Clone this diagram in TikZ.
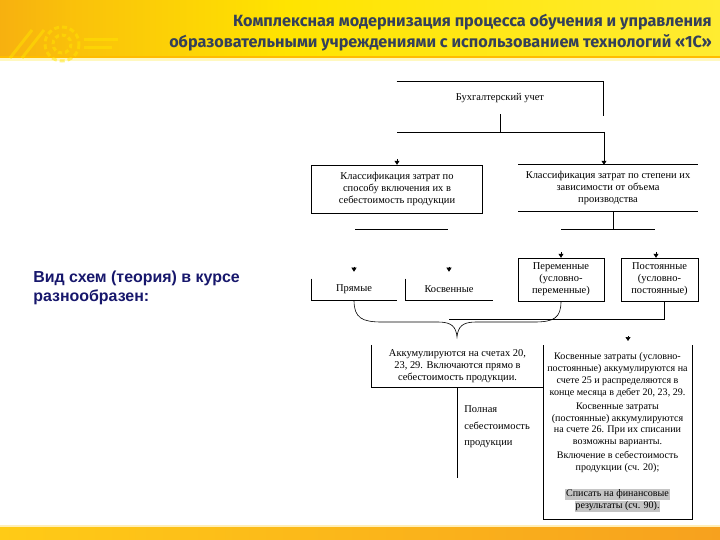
\documentclass[tikz,border=0pt]{standalone}
\usepackage{fontspec}
\setmainfont{Liberation Serif}
\newfontfamily\headfont{Fira Sans}
\newfontfamily\leadfont{Liberation Sans}
\usetikzlibrary{arrows.meta,positioning,calc}

\definecolor{headtext}{HTML}{34405A}
\definecolor{leadnavy}{HTML}{17176C}
\definecolor{hdorange}{HTML}{F0801E}
\definecolor{hdyellow}{HTML}{FFE400}
\definecolor{hdpale}{HTML}{FFF25A}
\definecolor{ftyellow}{HTML}{FFCB16}
\definecolor{ftorange}{HTML}{F7A11E}
\definecolor{hlgray}{HTML}{C4C4C4}

\pgfdeclarehorizontalshading{headband}{100bp}{color(0bp)=(hdorange); color(15bp)=(hdorange!85!hdyellow); color(30bp)=(hdorange!35!hdyellow); color(45bp)=(hdyellow); color(100bp)=(hdpale)}

\tikzset{
  schemebox/.style={inner sep=1bp, align=center, font=\fontsize{10.5}{12}\selectfont},
  tip/.style={-{Triangle[width=5bp,length=4bp]}, line width=0.5bp},
  frame/.style={line width=0.6bp}
}

\begin{document}
\begin{tikzpicture}[x=1bp, y=-1bp, line width=0.6bp]
  \useasboundingbox (0,0) rectangle (720,540);
  \fill[white] (0,0) rectangle (720,540);
  % шапка
  \shade[shading=headband] (0,0) rectangle (720,57);
  \fill[hdyellow!60!orange] (0,56) rectangle (720,58);
  \fill[hdyellow!25] (0,58) rectangle (720,61);
  \begin{scope}[hdyellow, opacity=0.5, line width=3bp]
    \draw[dash pattern=on 5bp off 3bp] (62,44) circle[radius=17];
    \draw[dash pattern=on 4bp off 3bp] (62,44) circle[radius=9];
    \draw (10,58) -- (32,30) (22,58) -- (44,30);
    \draw (84,40) -- (118,40) (84,48) -- (112,48);
  \end{scope}
  \node[anchor=north east, align=right, text=headtext, inner sep=0pt,
        font=\headfont\bfseries\fontsize{16.3}{21}\selectfont] (title) at (712,14)
    {Комплексная модернизация процесса обучения и управления\\
     образовательными учреждениями с использованием технологий «1С»};
  % подвал
  \shade[left color=ftyellow, right color=ftorange] (0,527) rectangle (720,540);
  \fill[ftyellow!30] (0,525) rectangle (720,527);

  \node[anchor=north west, align=left, text=leadnavy, inner sep=0pt,
        font=\leadfont\bfseries\fontsize{16}{19}\selectfont] (lead) at (33,271)
    {Вид схем (теория) в курсе\\разнообразен:};

  % схема
  \node[schemebox, minimum width=207, minimum height=32] (acct) at (500,98) {Бухгалтерский учет};
  \draw[frame] (acct.north west) -- (acct.north east) -- ([yshift=-2bp]acct.south east);
  \coordinate (split) at (500,132);
  \coordinate (splitL) at (397,132);
  \coordinate (splitR) at (604,132);
  \draw (acct.south) -- (split);
  \draw (splitL) -- (splitR);

  \node[schemebox, draw, frame, minimum width=172, minimum height=48] (kinc) at (397,189)
    {Классификация затрат по\\способу включения их в\\себестоимость продукции};
  \node[schemebox, minimum width=180, minimum height=46] (kvol) at (608,188)
    {Классификация затрат по степени их\\зависимости от объема\\производства};
  \draw[frame] (kvol.north west) -- (kvol.north east);
  \draw[frame] (kvol.south west) -- (kvol.south east);
  \draw[tip] (splitR) -- (kvol.north -| splitR);
  \draw[tip] ([yshift=6bp]kinc.north) -- (kinc.north);

  \coordinate (incbar) at (355,229);
  \draw (incbar) -- ++(93,0);
  \coordinate (volbar) at (613,229);
  \draw (kvol.south -| volbar) -- (volbar);
  \draw (561,229) -- (655,229);

  \node[schemebox, minimum width=86, minimum height=21] (direct) at (354,289.5) {Прямые};
  \draw[frame] (direct.north west) -- (direct.south west) -- (direct.south east);
  \node[schemebox, minimum width=88, minimum height=21] (indirect) at (449,289.5) {Косвенные};
  \draw[frame] (indirect.north west) -- (indirect.south west) -- (indirect.south east);
  \node[schemebox, draw, frame, minimum width=86, minimum height=43] (variable) at (561,279.5)
    {Переменные\\(условно-\\переменные)};
  \node[schemebox, draw, frame, minimum width=77, minimum height=43] (fixed) at (659.5,279.5)
    {Постоянные\\(условно-\\постоянные)};
  \draw[tip] ([yshift=12bp]direct.north) -- ([yshift=7bp]direct.north);
  \draw[tip] ([yshift=12bp]indirect.north) -- ([yshift=7bp]indirect.north);
  \draw[tip] ([yshift=6bp]variable.north) -- (variable.north);
  \draw[tip] ([yshift=6bp]fixed.north -| 656,0) -- (fixed.north -| 656,0);

  % фигурная скобка
  \coordinate (bracetip) at (457,337);
  \draw (direct.south) .. controls (354,318) and (362,322) .. (382,322) -- (438,322)
    .. controls (452,322) and (456,327) .. (bracetip)
    .. controls (458,327) and (462,322) .. (476,322) -- (534,322)
    .. controls (554,322) and (561,318) .. (variable.south);
  \coordinate (fixdrop) at (664,319);
  \coordinate (fixend) at (449,319);
  \draw (fixed.south -| fixdrop) -- (fixdrop) -- (fixend);

  \node[schemebox, minimum width=173, minimum height=42] (accum) at (457.5,366)
    {Аккумулируются на счетах 20,\\23, 29. Включаются прямо в\\себестоимость продукции.};
  \draw[frame] (accum.north west) -- (accum.south west) -- (accum.south east);
  \coordinate (fullend) at (457.5,478);
  \draw (accum.south) -- (fullend);
  \node[anchor=west, align=left, inner sep=0pt, font=\fontsize{10.5}{16.5}\selectfont] (full) at (464,427)
    {Полная\\себестоимость\\продукции};

  \node[schemebox, font=\fontsize{10.1}{12}\selectfont, minimum width=149, minimum height=174] (indir) at (617.5,432)
    {Косвенные затраты (условно-\\постоянные) аккумулируются на\\счете 25 и распределяются в\\конце месяца в дебет 20, 23, 29.\\[2bp]
     Косвенные затраты\\(постоянные) аккумулируются\\на счете 26. При их списании\\возможны варианты.\\[2bp]
     Включение в себестоимость\\продукции (сч. 20);\\[14bp]
     \setlength{\fboxsep}{0.8bp}\colorbox{hlgray}{Списать на финансовые}\\
     \setlength{\fboxsep}{0.8bp}\colorbox{hlgray}{результаты (сч. 90).}};
  \draw[frame] (indir.north west) -- (indir.south west) -- (indir.south east) -- (indir.north east);
  \coordinate (indirin) at (628,345);
  \draw[tip] ([yshift=9bp]indirin) -- ([yshift=4bp]indirin);
\end{tikzpicture}
\end{document}
